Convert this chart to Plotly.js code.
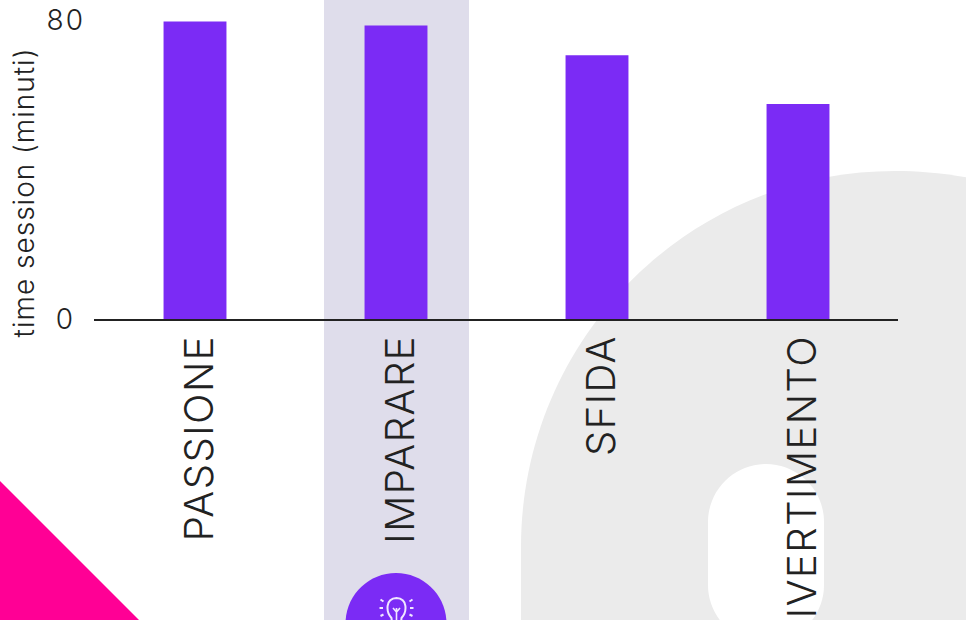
<!DOCTYPE html>
<html><head><meta charset="utf-8">
<script src="https://cdn.plot.ly/plotly-3.0.1.min.js"></script>
<style>html,body{margin:0;padding:0;background:#fff;overflow:hidden}
.xtick text{letter-spacing:1.45px}
.ytick text{letter-spacing:2px}
.ytitle{letter-spacing:1px}
.g-ytitle{transform:translate(10px,23px)}
.xaxislayer-above{transform:translate(5px,-2px)}
</style>
</head><body><div id="chart" style="width:966px;height:620px"></div>
<script>
var categories = ["PASSIONE","IMPARARE","SFIDA","DIVERTIMENTO"];
var sessionMinutes = [79.6, 78.5, 70.6, 57.5];
var yTickValues = [0, 80];
var yTickLabels = ["0\u00a0", "80"];

var W = 966, H = 620;
function P(d){ // pixel path -> paper path
  return d.replace(/(-?[\d.]+),(-?[\d.]+)/g, function(m,a,b){
    return ((+a-94)/804).toFixed(5)+","+((319-+b)/299).toFixed(5);
  });
}
function deco(path, fill, line, lw){
  return {type:"path", xref:"paper", yref:"paper", layer:"below", path:P(path),
    fillcolor:fill||"rgba(0,0,0,0)", line:{color:line||"rgba(0,0,0,0)", width:lw||0}};
}
var shapes = [
  deco("M521,640 L521,547 C521,340 688,171 895,171 C919,171 944,173 975,179 L975,640 Z","#ebebeb"),
  deco("M708,522 C708,490 734,464 766,464 C798,464 824,490 824,522 L824,585 C824,617 798,643 766,643 C734,643 708,617 708,585 Z","#ffffff"),
  deco("M324,-5 L469,-5 L469,640 L324,640 Z","#dfddeb"),
  deco("M-5,476 L150,631 L-5,631 Z","#ff0095"),
  deco("M345.5,623.5 C345.5,595.6 368.1,573 396,573 C423.9,573 446.5,595.6 446.5,623.5 C446.5,651.4 423.9,674 396,674 C368.1,674 345.5,651.4 345.5,623.5 Z","#7b2bf5"),
  // light bulb icon
  deco("M391.5,618 C386,612 385,598.5 396.5,598 C408,598.5 407,612 401.5,618 L401,623 L392,623 Z","rgba(0,0,0,0)","#f0e6ff",2),
  deco("M396.5,608 L396.5,622 M393,608 L396.5,612 L400,608","rgba(0,0,0,0)","#f0e6ff",1.6),
  deco("M380.5,599.5 L383.5,601.5 M379.5,608 L383,608 M380.5,616 L383.5,614.5 M412.5,599.5 L409.5,601.5 M413.5,608 L410,608 M412.5,616 L409.5,614.5","rgba(0,0,0,0)","#f0e6ff",2)
];

var data = [{
  type:"bar", x:categories, y:sessionMinutes,
  marker:{color:"#7b2bf5", line:{width:0}}, hoverinfo:"x+y"
}];
var layout = {
  width:W, height:H, autosize:false,
  margin:{l:94, r:68, t:20, b:301, pad:0},
  paper_bgcolor:"#ffffff", plot_bgcolor:"rgba(0,0,0,0)",
  showlegend:false, bargap:0.687,
  font:{family:"Inter, Lato, sans-serif", color:"#222222"},
  xaxis:{type:"category", categories:categories, range:[-0.5025,3.4975], tickangle:-90, showgrid:false, zeroline:false,
    showline:true, linecolor:"#222222", linewidth:2, ticks:"", ticklen:0,
    tickfont:{size:40, color:"#222222", family:"Inter", weight:300}, automargin:false},
  yaxis:{range:[0,80], tickmode:"array", tickvals:yTickValues, ticktext:yTickLabels,
    showgrid:false, zeroline:false, showline:false, ticks:"", automargin:false, ticklabelstandoff:8,
    tickfont:{size:28, color:"#222222", family:"Inter", weight:300},
    title:{text:"time session (minuti)", standoff:13, font:{size:28, color:"#222222", family:"Inter", weight:300}}},
  shapes:shapes
};
Plotly.newPlot("chart", data, layout, {displayModeBar:false, staticPlot:true});
</script></body></html>
